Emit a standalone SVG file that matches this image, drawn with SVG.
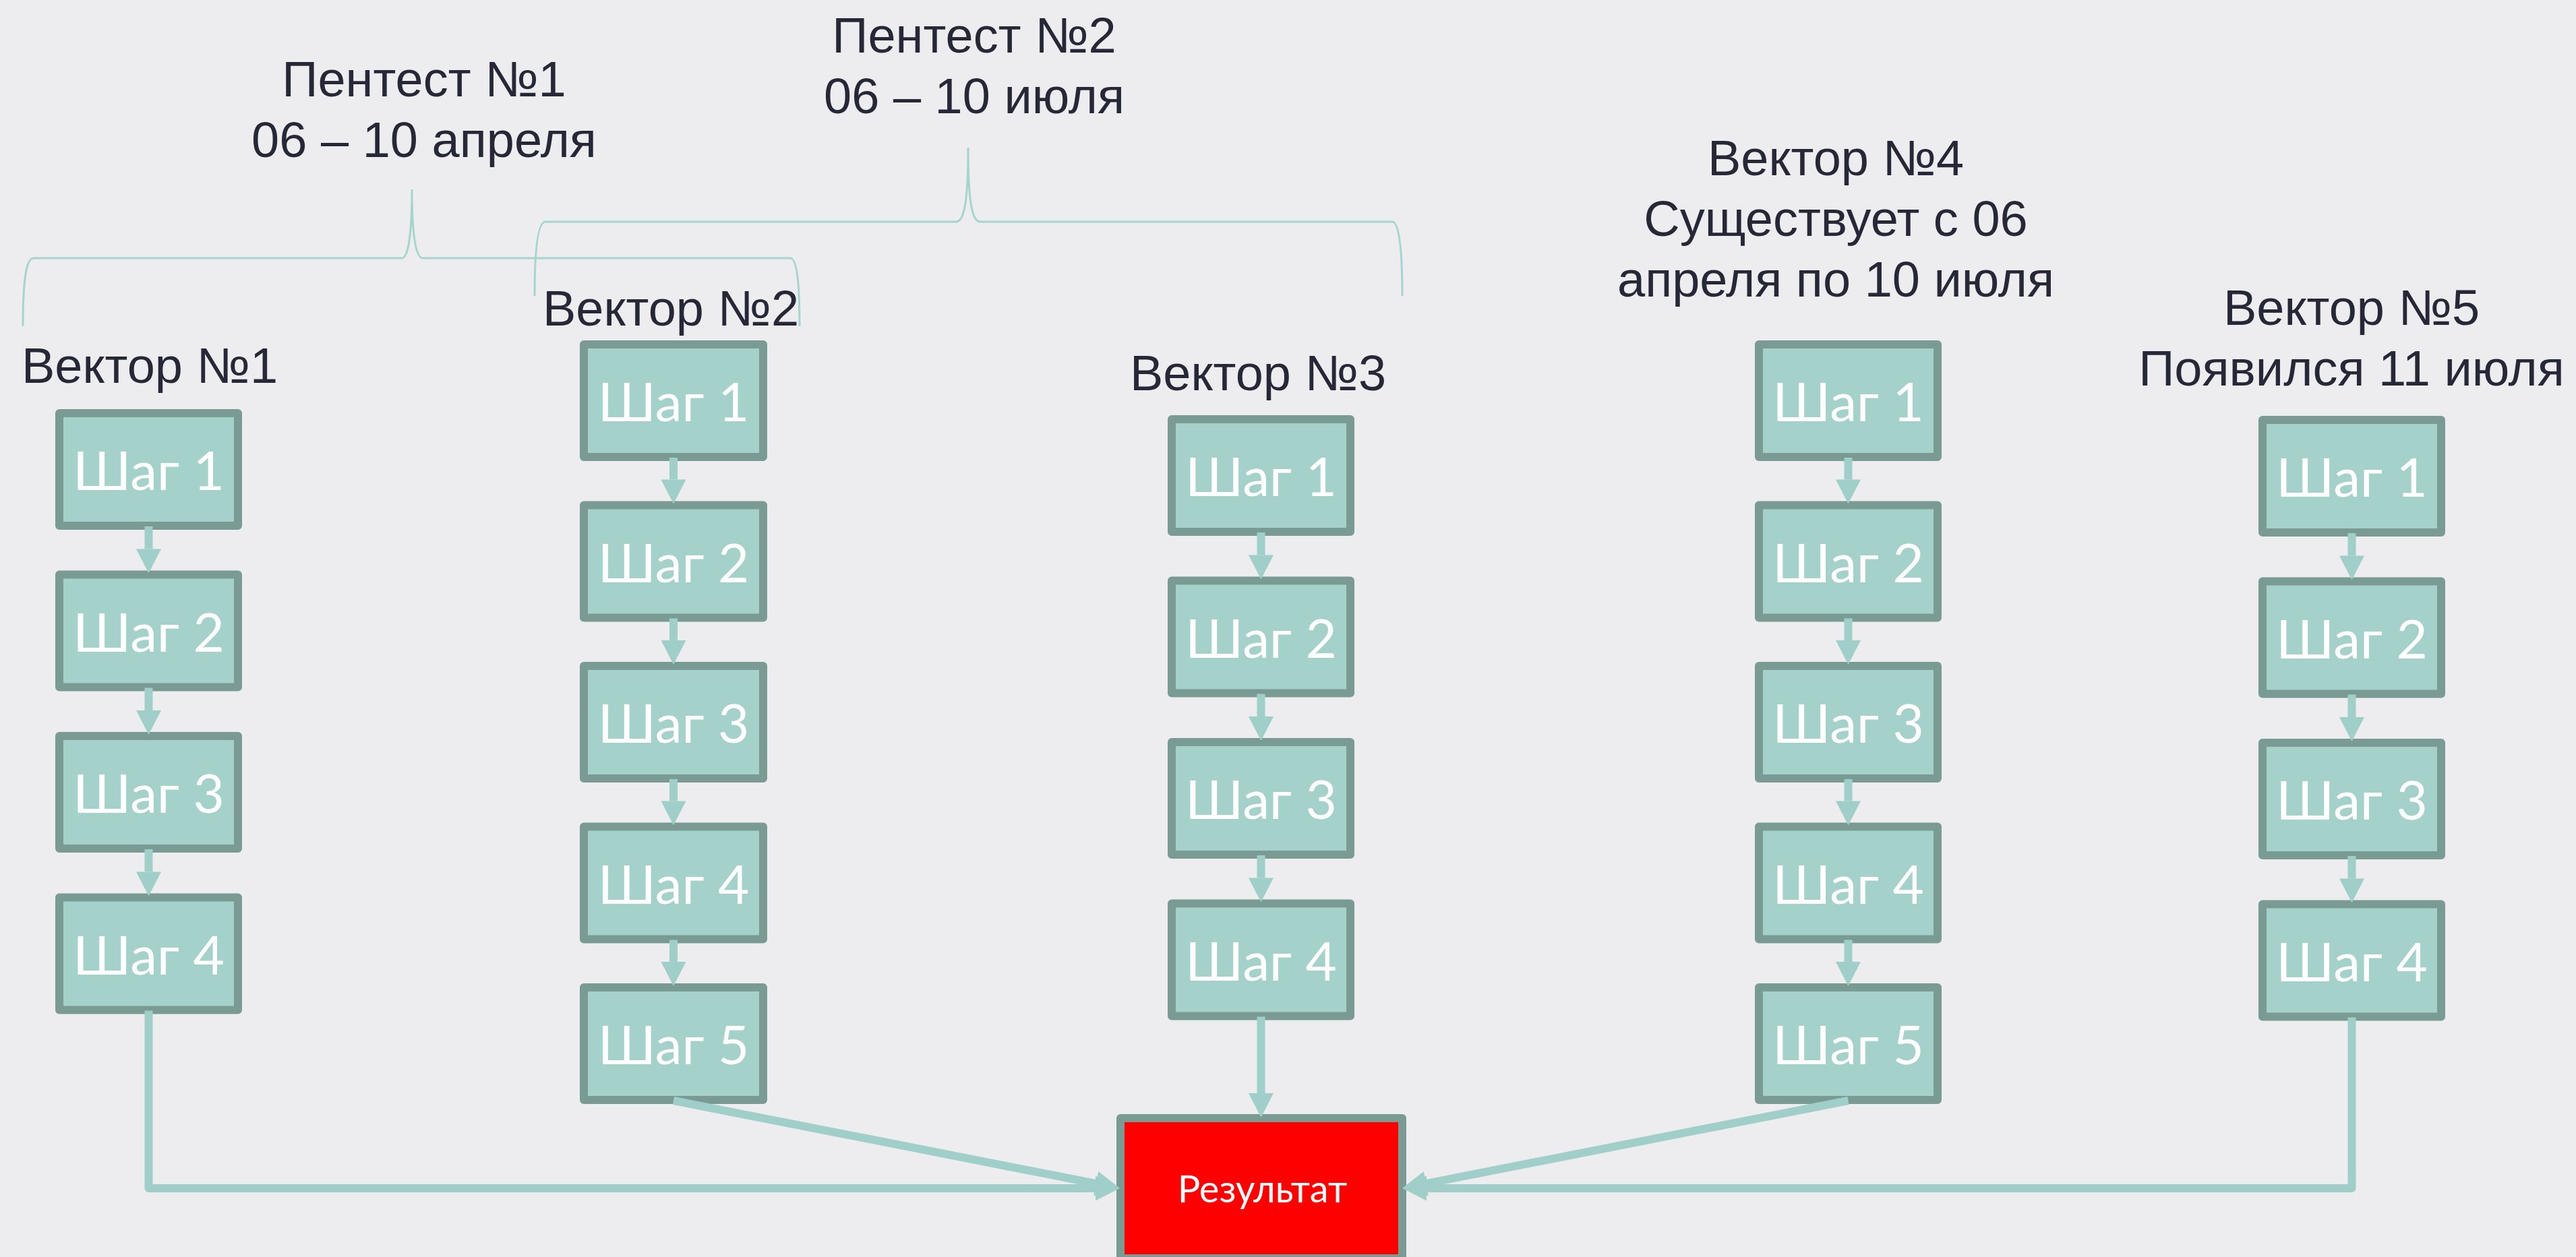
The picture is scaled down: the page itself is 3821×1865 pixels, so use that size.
<svg xmlns="http://www.w3.org/2000/svg" width="3821" height="1865" viewBox="0 0 3821 1865">
<defs>
<style>
.lbl{font-family:"Liberation Sans",Arial,sans-serif;font-size:74px;fill:#262837;text-anchor:middle}
.box{fill:#A5D1CB;stroke:#799B94;stroke-width:12;stroke-linejoin:round}
.res{fill:#FF0000;stroke:#799B94;stroke-width:12;stroke-linejoin:round}
.st{font-family:Lato,"Open Sans",sans-serif;font-size:80px;fill:#FFFFFF;text-anchor:middle}
.rt{font-family:Lato,"Open Sans",sans-serif;font-size:56px;fill:#FFFFFF;text-anchor:middle}
.brace{fill:none;stroke:#A5D5CD;stroke-width:3}
.con{fill:none;stroke:#9FCFC8;stroke-width:12;stroke-linejoin:round;marker-end:url(#ah)}
</style>
<marker id="ah" viewBox="0 -18.5 36 37" markerWidth="36" markerHeight="37" refX="0" refY="0" markerUnits="userSpaceOnUse" orient="auto" overflow="visible">
<path d="M0,-18.5 L36,0 L0,18.5 Z" fill="#9FCFC8"/>
</marker>
</defs>
<rect x="0" y="0" width="3821" height="1865" fill="#EDEDEF"/>

<g id="braces">
<path class="brace" d="M34,484 C34,420 38,383 50,383 L596,383 C605,383 611,350 611,281 C611,350 617,383 627,383 L1172,383 C1182,383 1186,420 1186,484"/>
<path class="brace" d="M793,439 C793,375 797,329 809,329 L1418,329 C1430,329 1436,300 1436,219 C1436,300 1442,329 1454,329 L2065,329 C2076,329 2080,375 2080,439"/>
</g>

<g id="titles">
<text class="lbl" x="629" y="143">Пентест №1</text>
<text class="lbl" x="629" y="233">06 – 10 апреля</text>
<text class="lbl" x="1445" y="78">Пентест №2</text>
<text class="lbl" x="1445" y="168">06 – 10 июля</text>
<text class="lbl" x="222" y="568">Вектор №1</text>
<text class="lbl" x="995" y="483">Вектор №2</text>
<text class="lbl" x="1866" y="579">Вектор №3</text>
<text class="lbl" x="2723" y="260">Вектор №4</text>
<text class="lbl" x="2723" y="350">Существует с 06</text>
<text class="lbl" x="2723" y="440">апреля по 10 июля</text>
<text class="lbl" x="3488" y="482">Вектор №5</text>
<text class="lbl" x="3488" y="572">Появился 11 июля</text>
</g>

<g id="v1s1"><rect class="box" x="88" y="613" width="265" height="167"/><text class="st" x="220.5" y="727">Шаг 1</text></g>
<g id="v1s2"><rect class="box" x="88" y="852.5" width="265" height="167"/><text class="st" x="220.5" y="966.5">Шаг 2</text></g>
<g id="v1s3"><rect class="box" x="88" y="1092" width="265" height="167"/><text class="st" x="220.5" y="1206">Шаг 3</text></g>
<g id="v1s4"><rect class="box" x="88" y="1331.5" width="265" height="167"/><text class="st" x="220.5" y="1445.5">Шаг 4</text></g>

<g id="v2s1"><rect class="box" x="866" y="511" width="266" height="167"/><text class="st" x="999" y="625">Шаг 1</text></g>
<g id="v2s2"><rect class="box" x="866" y="749.5" width="266" height="167"/><text class="st" x="999" y="863.5">Шаг 2</text></g>
<g id="v2s3"><rect class="box" x="866" y="988" width="266" height="167"/><text class="st" x="999" y="1102">Шаг 3</text></g>
<g id="v2s4"><rect class="box" x="866" y="1226.5" width="266" height="167"/><text class="st" x="999" y="1340.5">Шаг 4</text></g>
<g id="v2s5"><rect class="box" x="866" y="1465" width="266" height="167"/><text class="st" x="999" y="1579">Шаг 5</text></g>

<g id="v3s1"><rect class="box" x="1738" y="622" width="265" height="167"/><text class="st" x="1870.5" y="736">Шаг 1</text></g>
<g id="v3s2"><rect class="box" x="1738" y="861.5" width="265" height="167"/><text class="st" x="1870.5" y="975.5">Шаг 2</text></g>
<g id="v3s3"><rect class="box" x="1738" y="1101" width="265" height="167"/><text class="st" x="1870.5" y="1215">Шаг 3</text></g>
<g id="v3s4"><rect class="box" x="1738" y="1340.5" width="265" height="167"/><text class="st" x="1870.5" y="1454.5">Шаг 4</text></g>

<g id="v4s1"><rect class="box" x="2609" y="511" width="265" height="167"/><text class="st" x="2741.5" y="625">Шаг 1</text></g>
<g id="v4s2"><rect class="box" x="2609" y="749.5" width="265" height="167"/><text class="st" x="2741.5" y="863.5">Шаг 2</text></g>
<g id="v4s3"><rect class="box" x="2609" y="988" width="265" height="167"/><text class="st" x="2741.5" y="1102">Шаг 3</text></g>
<g id="v4s4"><rect class="box" x="2609" y="1226.5" width="265" height="167"/><text class="st" x="2741.5" y="1340.5">Шаг 4</text></g>
<g id="v4s5"><rect class="box" x="2609" y="1465" width="265" height="167"/><text class="st" x="2741.5" y="1579">Шаг 5</text></g>

<g id="v5s1"><rect class="box" x="3356" y="623" width="265" height="167"/><text class="st" x="3488.5" y="737">Шаг 1</text></g>
<g id="v5s2"><rect class="box" x="3356" y="862.5" width="265" height="167"/><text class="st" x="3488.5" y="976.5">Шаг 2</text></g>
<g id="v5s3"><rect class="box" x="3356" y="1102" width="265" height="167"/><text class="st" x="3488.5" y="1216">Шаг 3</text></g>
<g id="v5s4"><rect class="box" x="3356" y="1341.5" width="265" height="167"/><text class="st" x="3488.5" y="1455.5">Шаг 4</text></g>

<g id="result"><rect class="res" x="1662" y="1659" width="418" height="208"/><text class="rt" x="1872.5" y="1784">Результат</text></g>

<g id="connectors">
<path class="con" d="M220.5,781 V814.5"/>
<path class="con" d="M220.5,1020.5 V1054"/>
<path class="con" d="M220.5,1260 V1293.5"/>
<path class="con" d="M999,679 V711.5"/>
<path class="con" d="M999,917.5 V950"/>
<path class="con" d="M999,1156 V1188.5"/>
<path class="con" d="M999,1394.5 V1427"/>
<path class="con" d="M1870.5,790 V823.5"/>
<path class="con" d="M1870.5,1029.5 V1063"/>
<path class="con" d="M1870.5,1269 V1302.5"/>
<path class="con" d="M2741.5,679 V711.5"/>
<path class="con" d="M2741.5,917.5 V950"/>
<path class="con" d="M2741.5,1156 V1188.5"/>
<path class="con" d="M2741.5,1394.5 V1427"/>
<path class="con" d="M3488.5,791 V824.5"/>
<path class="con" d="M3488.5,1030.5 V1064"/>
<path class="con" d="M3488.5,1270 V1303.5"/>
<path class="con" d="M220.5,1499.5 V1763 H1625"/>
<path class="con" d="M999,1633 L1625.7,1756.1"/>
<path class="con" d="M1870.5,1508.5 V1622"/>
<path class="con" d="M2741.5,1633 L2115.3,1756.1"/>
<path class="con" d="M3488.5,1509.5 V1763 H2116"/>
</g>
</svg>
